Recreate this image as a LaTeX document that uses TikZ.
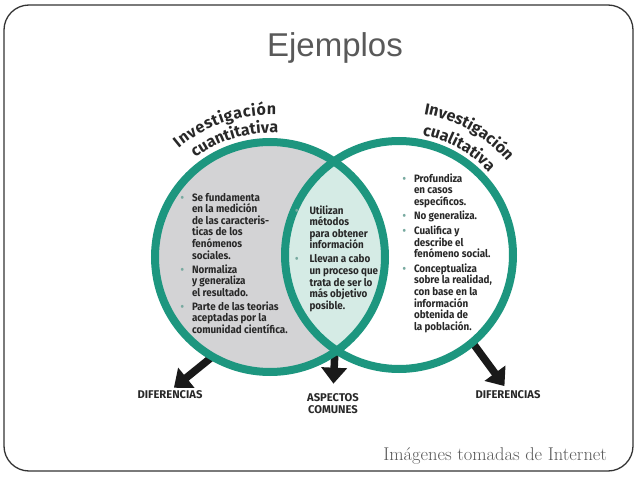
\documentclass[tikz,border=0pt]{standalone}
\usepackage{fontspec}
\newfontfamily\fira{Fira Sans}
\newfontfamily\firab[FakeStretch=0.92]{Fira Sans}
\newfontfamily\libsans{Liberation Sans}
\usetikzlibrary{arrows.meta,decorations.text}
\definecolor{teal1}{RGB}{29,150,127}
\definecolor{grayfill}{RGB}{211,211,213}
\definecolor{lensfill}{RGB}{213,235,229}
\definecolor{txt}{RGB}{40,40,40}
\definecolor{bul}{RGB}{120,170,160}
\definecolor{titlegray}{RGB}{89,89,89}
\newlength{\bw}
\newcommand{\vbul}{\textcolor{bul}{\textbullet}}
\newcommand{\itm}{\makebox[\bw][l]{\vbul}}
\newcommand{\ind}{\hspace*{\bw}}
\newcommand{\fst}{\rule{0pt}{9pt}}
\newcommand{\arcfont}{\fira\bfseries\fontsize{16}{16}\selectfont}
\begin{document}
\begin{tikzpicture}[x=1pt,y=1pt,
  every node/.style={inner sep=0pt, outer sep=0pt},
  bodytext/.style={anchor=north west, align=left, font=\firab\bfseries\fontsize{10.7}{11.6}\selectfont, text=txt,
    execute at begin node={\lineskiplimit=-20pt\lineskip=0pt\setlength{\bw}{#1}}},
  bodytext/.default=11.5pt,
  lbl/.style={font=\fira\bfseries\fontsize{11.2}{11.5}\selectfont, text=txt, align=center},
  bigarrow/.style={line width=7.5pt, draw=black!90, -{Triangle[width=25pt,length=16pt]}},
  ring/.style={draw=teal1, line width=8pt},
  arctitle/.style={decorate, decoration={text along path, text align=fit to path, text color=txt, text={#1}}},
]
\useasboundingbox (0,0) rectangle (638,-479);
\draw[rounded corners=25pt, line width=1.3pt, draw=black!80] (4,-5) rectangle (633,-471);
\node[font=\libsans\fontsize{33}{33}\selectfont, text=titlegray] (title) at (335,-48) {Ejemplos};

% circle anchors
\node[circle, minimum size=230pt] (L) at (270,-257) {};
\node[circle, minimum size=228pt] (R) at (399,-255) {};
\coordinate (lb) at (335,-349);

% labels
\node[lbl] (dl) at (170,-395) {DIFERENCIAS};
\node[lbl] (am) at (333,-403.5) {ASPECTOS\\COMUNES};
\node[lbl] (dr) at (508,-395) {DIFERENCIAS};

% arrows
\draw[bigarrow, shorten >=5pt] (L.240) -- (dl.north);
\draw[bigarrow, shorten >=10pt] (lb) -- (am.north);
\draw[bigarrow, shorten >=6pt] (R.310) -- (dr.north);

% circles
\fill[grayfill] (L.center) circle[radius=115];
\fill[white] (R.center) circle[radius=114];
\begin{scope}
  \clip (L.center) circle[radius=115];
  \fill[lensfill] (R.center) circle[radius=114];
\end{scope}
\draw[ring] (L.center) circle[radius=115];
\draw[ring] (R.center) circle[radius=114];

% curved titles
\path[arctitle={|\arcfont|Investigación}] ([shift={(270,-257)}]130:142) arc[start angle=130, end angle=87.5, radius=142];
\path[arctitle={|\arcfont|cuantitativa}] ([shift={(270,-257)}]127:124) arc[start angle=127, end angle=86.5, radius=124];
\path[arctitle={|\arcfont|Investigación}] ([shift={(399,-255)}]80:143) arc[start angle=80, end angle=41, radius=143];
\path[arctitle={|\arcfont|cualitativa}] ([shift={(399,-255)}]79:122) arc[start angle=79, end angle=43, radius=122];

% text blocks
\node[bodytext] (tq) at (180.5,-192) {\fst\itm Se fundamenta\\
\ind en la medición\\
\ind de las caracteris-\\
\ind ticas de los\\
\ind fenómenos\\
\ind sociales.\\[2.4pt]
\itm Normaliza\\
\ind y generaliza\\
\ind el resultado.\\[2.4pt]
\itm Parte de las teorias\\
\ind aceptadas por la\\
\ind comunidad científica.};
\node[bodytext=14.5pt] (tc) at (295,-205) {\fst\itm Utilizan\\
\ind métodos\\
\ind para obtener\\
\ind información\\[2.5pt]
\itm Llevan a cabo\\
\ind un proceso que\\
\ind trata de ser lo\\
\ind más objetivo\\
\ind posible.};
\node[bodytext] (tl) at (402.5,-173) {\fst\itm Profundiza\\
\ind en casos\\
\ind específicos.\\[3pt]
\itm No generaliza.\\[3pt]
\itm Cualifica y\\
\ind describe el\\
\ind fenómeno social.\\[3pt]
\itm Conceptualiza\\
\ind sobre la realidad,\\
\ind con base en la\\
\ind información\\
\ind obtenida de\\
\ind la población.};

\node[font=\fontsize{18.5}{18.5}\selectfont, text=black!65, anchor=base east] (src) at (607,-460) {Imágenes tomadas de Internet};
\end{tikzpicture}
\end{document}
